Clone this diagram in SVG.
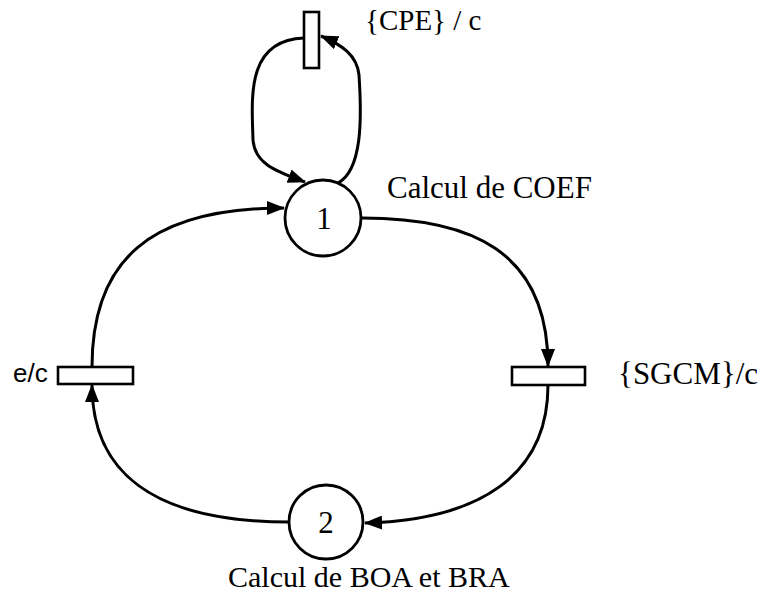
<svg xmlns="http://www.w3.org/2000/svg" width="763" height="598" viewBox="0 0 763 598">
<defs>
<style>
.place{fill:#fff;stroke:#000;stroke-width:2.8}
.trans{fill:#fff;stroke:#000;stroke-width:2.6}
.lbl{font-family:"Liberation Serif","Times New Roman",serif;font-size:31px;fill:#000}
.sans{font-family:"Liberation Sans",Arial,sans-serif;font-size:26px;fill:#000}
.arc{fill:none;stroke:#000;stroke-width:3;marker-end:url(#ah)}
</style>
<marker id="ah" viewBox="0 0 18 14" refX="17" refY="7" markerWidth="18" markerHeight="14" markerUnits="userSpaceOnUse" orient="auto">
<path d="M0,0 L18,7 L0,14 Z" fill="#000"/>
</marker>
</defs>
<g id="connectors">
<path class="arc" d="M362 218 C470 218 548 250 548 366"/>
<path class="arc" d="M548 385 C548 475 480 520 365 523"/>
<path class="arc" d="M289 522 C150 522 92 470 92 385"/>
<path class="arc" d="M92 367 C92 260 150 208 284 208"/>
<path class="arc" d="M338 183 C362 170 362 120 359 75 C357 55 342 45 321 36"/>
<path class="arc" d="M304 38 C245 40 252 100 253 140 C255 165 278 172 305 182"/>
</g>
<g id="p1">
<circle class="place" cx="323" cy="218" r="38"/>
<text class="lbl" x="324" y="229" text-anchor="middle">1</text>
<text class="lbl" x="387" y="198">Calcul de COEF</text>
</g>
<g id="p2">
<circle class="place" cx="326" cy="522" r="37"/>
<text class="lbl" x="326" y="533" text-anchor="middle">2</text>
<text class="lbl" x="228" y="587" style="font-size:30px">Calcul de BOA et BRA</text>
</g>
<g id="t_cpe">
<rect class="trans" x="304" y="12" width="15" height="56"/>
<text class="lbl" x="365" y="30" style="font-size:29px">{CPE} / c</text>
</g>
<g id="t_sgcm">
<rect class="trans" x="512" y="367" width="73" height="18"/>
<text class="lbl" x="618" y="384">{SGCM}/c</text>
</g>
<g id="t_e">
<rect class="trans" x="58" y="367" width="75" height="17"/>
<text class="sans" x="13" y="382">e/c</text>
</g>
</svg>
